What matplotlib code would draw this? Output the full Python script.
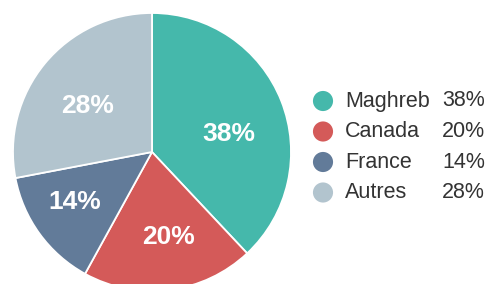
import matplotlib.pyplot as plt

# data
categories = ["Maghreb", "Canada", "France", "Autres"]
shares = [38, 20, 14, 28]
colors = ["#45b8ab", "#d45a59", "#627b99", "#b2c4ce"]

plt.rcParams['font.family'] = ['Liberation Sans', 'DejaVu Sans']

W, H = 491, 284
fig = plt.figure(figsize=(W / 100, H / 100), dpi=100)

# pie axes: centre (152, 152) px, radius 139 px
cx, cy, r = 152, 152, 139
ax = fig.add_axes([(cx - r) / W, (H - cy - r) / H, 2 * r / W, 2 * r / H])
wedges, texts, autotexts = ax.pie(
    shares, colors=colors, startangle=90, counterclock=False, radius=1,
    autopct='%d%%', pctdistance=0.6,
    wedgeprops=dict(edgecolor='white', linewidth=1.3),
    textprops=dict(color='white', fontsize=19, fontweight='bold'))
# label placement (in radius units) as seen in the original
label_pos = [(0.554, 0.13), (0.12, -0.61), (-0.554, -0.36), (-0.46, 0.33)]
for t, p in zip(autotexts, label_pos):
    t.set_position(p)
ax.set_xlim(-1, 1)
ax.set_ylim(-1, 1)
ax.set_aspect('equal')
ax.axis('off')

# legend drawn by hand in pixel coordinates
lax = fig.add_axes([0, 0, 1, 1])
lax.set_xlim(0, W)
lax.set_ylim(H, 0)
lax.axis('off')
y0, step = 101, 30.5
for i, (cat, val, col) in enumerate(zip(categories, shares, colors)):
    y = y0 + i * step
    lax.scatter([323], [y], s=210, color=col, edgecolor='none')
    lax.text(345, y, cat, fontsize=15.5, color='#333333', va='center', ha='left')
    lax.text(442, y, f"{val}%", fontsize=15.5, color='#333333', va='center', ha='left')

fig.savefig("out.png", dpi=100)
